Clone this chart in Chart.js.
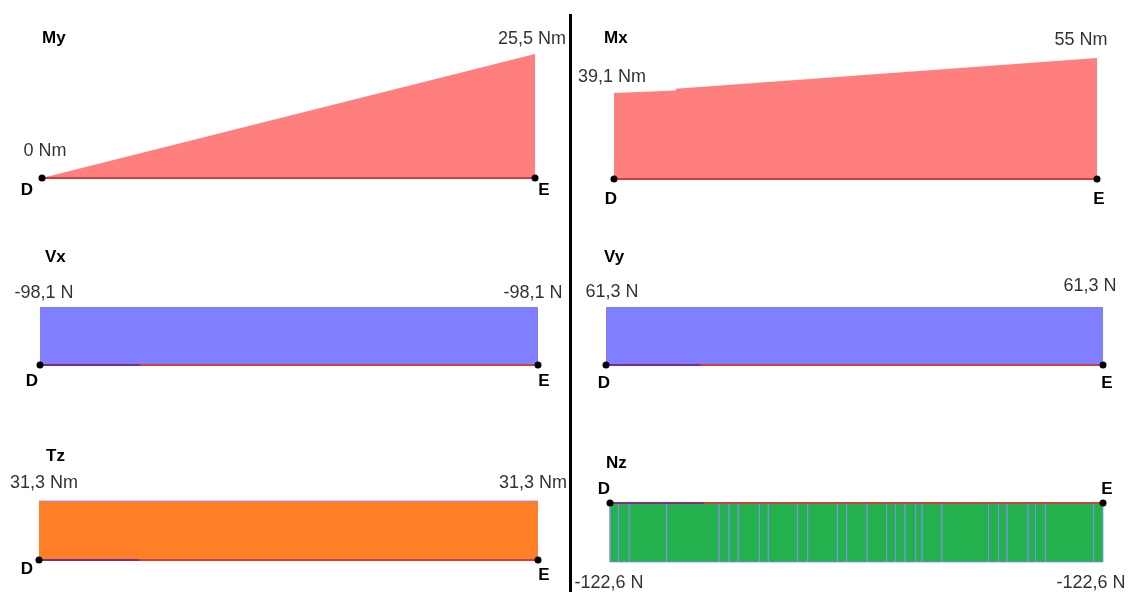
<!DOCTYPE html>
<html>
<head>
<meta charset="utf-8">
<script src="https://cdn.jsdelivr.net/npm/chart.js@4.4.1/dist/chart.umd.min.js"></script>
<style>
  body { margin: 0; background: #fff; }
  #page { position: relative; width: 1131px; height: 592px; overflow: hidden; }
  .panel { position: absolute; }
  #divider { position: absolute; left: 569px; top: 14px; width: 3px; height: 578px; background: #000; }
</style>
</head>
<body>
<div id="page">
  <div id="divider"></div>
</div>
<script>
// diagram data
const names = ['My', 'Mx', 'Vx', 'Vy', 'Tz', 'Nz'];
const units = ['Nm', 'Nm', 'N', 'N', 'Nm', 'N'];
const valueD = [0, 39.1, -98.1, 61.3, 31.3, -122.6];
const valueE = [25.5, 55, -98.1, 61.3, 31.3, -122.6];
const stations = [0, 1];
const nodeNames = ['D', 'E'];
// Mx has a small jump a bit after D
const mxStations = [0, 0.128, 0.128, 1];
const mxValues = [39.1, 40.2, 41.0, 55];
// sample stations along the member for Nz (fraction of length)
const nzStations = [0, 0.017, 0.039, 0.115, 0.221, 0.241, 0.260, 0.303, 0.321, 0.380, 0.401,
    0.461, 0.480, 0.521, 0.561, 0.579, 0.598, 0.620, 0.633, 0.673, 0.768, 0.788, 0.805,
    0.848, 0.863, 0.883, 0.981, 1];
// part of the member overlapped by the neighbour member line
const overlapEnd = [0, 0, 0.2, 0.19, 0.2, 0.19];

// layout block
const fills = ['rgba(255,0,0,0.5)', 'rgba(255,0,0,0.5)', 'rgba(0,0,255,0.5)',
    'rgba(0,0,255,0.5)', '#ff7f27', '#22b14c'];
const boxes = [
    [0, 0, 568, 215], [573, 0, 558, 215],
    [0, 215, 568, 195], [573, 215, 558, 195],
    [0, 410, 568, 182], [573, 410, 558, 182]
];
// xD, xE, baseline y, peak y (page pixels)
const geom = [
    [42, 535, 178, 54], [614, 1097, 179, 58],
    [40, 538, 365, 307], [606, 1103, 365, 307],
    [39, 538, 560, 501], [610, 1103, 503, 562]
];
const flip = [false, false, true, false, false, false];
const titlePos = [[42, 38], [604, 38], [45, 257], [604, 257], [46, 456], [606, 463]];
// value label offsets from the value point at D and E
const valueOffsets = [
    [[3, -27], [-3, -15], ], [[-2, -16], [-16, -18]],
    [[4, -14], [-5, -14]], [[6, -15], [-13, -21]],
    [[5, -18], [-5, -18]], [[-1, 21], [-12, 21]]
];
// node label offsets from the node point
const nodeOffsets = [
    [[-15, 12], [9, 12]], [[-3, 20], [2, 20]],
    [[-8, 16], [6, 16]], [[-2, 18], [4, 18]],
    [[-12, 9], [6, 15]], [[-6, -14], [4, -14]]
];

function fmt(v, unit) {
    return String(v).replace('.', ',') + ' ' + unit;
}

const labelPlugin = {
    id: 'labels',
    afterDatasetsDraw(chart, args, opts) {
        const i = opts.index;
        const ctx = chart.ctx;
        const xs = chart.scales.x;
        const ys = chart.scales.y;
        const vals = [valueD[i], valueE[i]];
        ctx.save();
        ctx.textBaseline = 'middle';
        // title
        ctx.font = 'bold 17px "Liberation Sans", Arial, sans-serif';
        ctx.fillStyle = '#000';
        ctx.textAlign = 'left';
        ctx.fillText(names[i], titlePos[i][0] - boxes[i][0], titlePos[i][1] - boxes[i][1]);
        // values
        ctx.font = '18px "Liberation Sans", Arial, sans-serif';
        ctx.fillStyle = '#333';
        ctx.textAlign = 'center';
        stations.forEach((s, k) => {
            const px = xs.getPixelForValue(s) + valueOffsets[i][k][0];
            const py = ys.getPixelForValue(vals[k]) + valueOffsets[i][k][1];
            ctx.fillText(fmt(vals[k], units[i]), px, py);
        });
        // nodes
        ctx.font = 'bold 17px "Liberation Sans", Arial, sans-serif';
        ctx.fillStyle = '#000';
        stations.forEach((s, k) => {
            const px = xs.getPixelForValue(s) + nodeOffsets[i][k][0];
            const py = ys.getPixelForValue(0) + nodeOffsets[i][k][1];
            ctx.fillText(nodeNames[k], px, py);
        });
        ctx.restore();
    }
};

const page = document.getElementById('page');

names.forEach((name, i) => {
    const [bx, by, bw, bh] = boxes[i];
    const [xD, xE, yBase, yPeak] = geom[i];
    const div = document.createElement('div');
    div.className = 'panel';
    div.style.left = bx + 'px';
    div.style.top = by + 'px';
    div.style.width = bw + 'px';
    div.style.height = bh + 'px';
    const canvas = document.createElement('canvas');
    div.appendChild(canvas);
    page.appendChild(div);

    // diagram area
    let fillData;
    if (name === 'Nz') {
        fillData = [];
        nzStations.forEach((s, k) => {
            if (k > 0) fillData.push({ x: s, y: valueD[i] });
            fillData.push({ x: s, y: 0 });
            if (k < nzStations.length - 1) fillData.push({ x: s, y: valueD[i] });
        });
    } else if (name === 'Mx') {
        fillData = mxStations.map((s, k) => ({ x: s, y: mxValues[k] }));
    } else {
        fillData = stations.map((s, k) => ({ x: s, y: [valueD[i], valueE[i]][k] }));
    }
    const edged = name === 'Nz' || name === 'Tz';

    const datasets = [{
        data: stations.map(s => ({ x: s, y: 0 })),
        pointRadius: 3.5,
        pointBackgroundColor: '#000',
        pointBorderWidth: 0,
        showLine: false,
        clip: false,
        order: 0
    }, {
        data: [{ x: 0, y: 0 }, { x: overlapEnd[i], y: 0 }],
        showLine: true,
        borderColor: 'rgba(115,40,150,0.85)',
        borderWidth: 2,
        pointRadius: 0,
        clip: false,
        order: 1
    }, {
        data: stations.map(s => ({ x: s, y: 0 })),
        showLine: true,
        borderColor: '#cf3f3f',
        borderWidth: 2,
        pointRadius: 0,
        clip: false,
        order: 2
    }, {
        data: fillData,
        showLine: true,
        fill: 'origin',
        backgroundColor: fills[i],
        borderColor: edged ? 'rgba(140,140,255,0.8)' : 'rgba(0,0,0,0)',
        borderWidth: edged ? 1 : 0,
        pointRadius: 0,
        tension: 0,
        clip: false,
        order: 3
    }];

    const lo = Math.min(0, valueD[i], valueE[i]);
    const hi = Math.max(0, valueD[i], valueE[i]);

    new Chart(canvas, {
        type: 'scatter',
        data: { datasets: datasets },
        options: {
            responsive: true,
            maintainAspectRatio: false,
            animation: false,
            events: [],
            layout: {
                padding: {
                    left: xD - bx,
                    right: bx + bw - xE,
                    top: Math.min(yBase, yPeak) - by,
                    bottom: by + bh - Math.max(yBase, yPeak)
                }
            },
            scales: {
                x: { type: 'linear', min: 0, max: 1, display: false },
                y: { type: 'linear', min: lo, max: hi, reverse: flip[i], display: false }
            },
            plugins: {
                legend: { display: false },
                tooltip: { enabled: false },
                labels: { index: i }
            }
        },
        plugins: [labelPlugin]
    });
});
</script>
</body>
</html>
